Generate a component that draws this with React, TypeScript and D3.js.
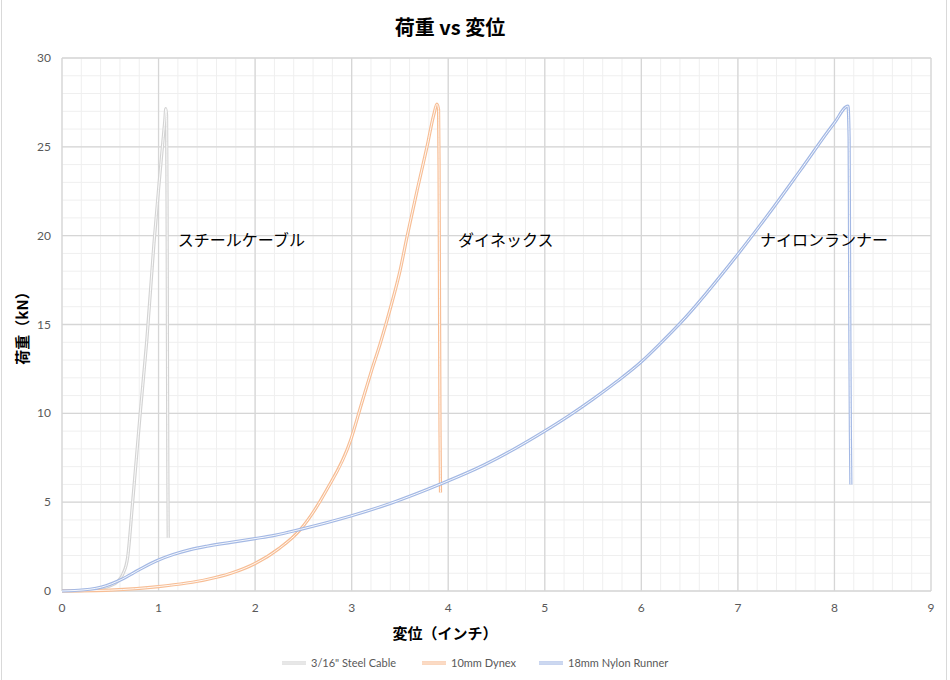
import React from "react";
import * as d3 from "d3";

const W = 950;
const H = 680;
const M = { left: 62, right: 19, top: 58, bottom: 89 };

const xTicks = [0, 1, 2, 3, 4, 5, 6, 7, 8, 9];
const yTicks = [0, 5, 10, 15, 20, 25, 30];

const steelX = [0, 0.2, 0.4, 0.5, 0.58, 0.63, 0.68, 0.73, 0.81, 0.878, 0.953, 1.0, 1.043, 1.065, 1.075, 1.083, 1.088, 1.092, 1.096, 1.1];
const steelY = [0, 0.02, 0.15, 0.3, 0.55, 0.95, 1.9, 4.9, 10, 14.1, 19.6, 22.6, 25.2, 26.5, 27.15, 26.8, 22, 14, 7, 3.0];

const dynexX = [0, 0.5, 1.0, 1.5, 1.75, 2.0, 2.25, 2.47, 2.74, 2.99, 3.1, 3.2, 3.3, 3.4, 3.5, 3.572, 3.68, 3.78, 3.85, 3.883, 3.9, 3.905, 3.91, 3.915, 3.92];
const dynexY = [0, 0.05, 0.25, 0.65, 1.0, 1.55, 2.4, 3.47, 5.68, 8.5, 10.5, 12.3, 14.0, 15.9, 18.0, 19.9, 22.6, 25.0, 26.8, 27.4, 27.1, 24, 16, 9, 5.55];

const nylonX = [0, 0.29, 0.41, 0.62, 0.8, 0.98, 1.15, 1.33, 1.5, 1.75, 2.0, 2.2, 2.47, 2.99, 3.4, 3.92, 4.37, 4.99, 5.26, 5.5, 5.75, 6.0, 6.2, 6.4, 7.0, 7.37, 7.65, 8.0, 8.14, 8.152, 8.156, 8.16, 8.165, 8.17];
const nylonY = [0, 0.1, 0.22, 0.66, 1.2, 1.7, 2.05, 2.33, 2.52, 2.74, 2.95, 3.13, 3.47, 4.22, 4.93, 6.02, 7.09, 8.97, 9.9, 10.8, 11.8, 12.9, 13.95, 15.06, 18.96, 21.6, 23.7, 26.35, 27.29, 25.5, 20, 14, 9, 6.0];

const seriesNames = ['3/16" Steel Cable', "10mm Dynex", "18mm Nylon Runner"];
const seriesColors = ["#d3d3d3", "#f7bd94", "#a3b8e4"];
const labels = ["スチールケーブル", "ダイネックス", "ナイロンランナー"];
const labelX = [1.2, 4.1, 7.23];
const labelY = 19.4;

const jp = '"Noto Sans CJK JP", "Noto Sans", sans-serif';
const num = 'Lato, "Open Sans", sans-serif';

export default function App() {
  const x = d3.scaleLinear().domain([0, 9]).range([M.left, W - M.right]);
  const y = d3.scaleLinear().domain([0, 30]).range([H - M.bottom, M.top]);

  const minorX = d3.range(0, 9.0001, 0.2);
  const minorY = d3.range(0, 30.0001, 1);

  const data = [
    steelX.map((v, i) => [v, steelY[i]] as [number, number]),
    dynexX.map((v, i) => [v, dynexY[i]] as [number, number]),
    nylonX.map((v, i) => [v, nylonY[i]] as [number, number]),
  ];
  const line = d3
    .line<[number, number]>()
    .x((d) => x(d[0]))
    .y((d) => y(d[1]))
    .curve(d3.curveMonotoneX);

  const legendX = [282, 422, 539];

  return (
    <svg width={W} height={H} style={{ position: "absolute", left: 0, top: 0, background: "#fff" }}>
      <rect x={0} y={0} width={W} height={H} fill="#fff" />
      <line x1={1.5} x2={1.5} y1={0} y2={H} stroke="#d9d9d9" />
      <line x1={946.5} x2={946.5} y1={0} y2={H} stroke="#d9d9d9" />

      <g>
        {minorX.map((v, i) => (
          <line key={"mx" + i} x1={x(v)} x2={x(v)} y1={y(0)} y2={y(30)} stroke="#efefef" strokeWidth={1} />
        ))}
        {minorY.map((v, i) => (
          <line key={"my" + i} x1={x(0)} x2={x(9)} y1={y(v)} y2={y(v)} stroke="#efefef" strokeWidth={1} />
        ))}
        {xTicks.map((v) => (
          <line key={"Mx" + v} x1={x(v)} x2={x(v)} y1={y(0)} y2={y(30)} stroke="#d6d6d6" strokeWidth={1.3} />
        ))}
        {yTicks.map((v) => (
          <line key={"My" + v} x1={x(0)} x2={x(9)} y1={y(v)} y2={y(v)} stroke="#d6d6d6" strokeWidth={1.3} />
        ))}
      </g>

      {xTicks.map((v) => (
        <text key={"tx" + v} x={x(v)} y={y(0) + 21} textAnchor="middle" fontFamily={num} fontSize={12} fill="#595959">
          {v}
        </text>
      ))}
      {yTicks.map((v) => (
        <text key={"ty" + v} x={x(0) - 11} y={y(v) + 4} textAnchor="end" fontFamily={num} fontSize={12} fill="#595959">
          {v}
        </text>
      ))}

      {data.map((d, i) => (
        <g key={"s" + i}>
          <path d={line(d) || ""} fill="none" stroke={seriesColors[i]} strokeWidth={3.2} strokeLinejoin="round" />
          <path d={line(d) || ""} fill="none" stroke="#fff" strokeWidth={0.9} strokeLinejoin="round" />
        </g>
      ))}

      {labels.map((t, i) => (
        <text key={"l" + i} x={x(labelX[i])} y={y(labelY)} fontFamily={jp} fontSize={16} fill="#000">
          {t}
        </text>
      ))}

      <text x={450} y={35} textAnchor="middle" fontFamily={jp} fontSize={20} fontWeight="bold" fill="#000">
        荷重 vs 変位
      </text>
      <text x={445} y={639} textAnchor="middle" fontFamily={jp} fontSize={15} fontWeight="bold" fill="#000">
        変位（インチ）
      </text>
      <text
        transform={`translate(28, ${(y(0) + y(30)) / 2}) rotate(-90)`}
        textAnchor="middle"
        fontFamily={jp}
        fontSize={15}
        fontWeight="bold"
        fill="#000"
      >
        荷重（kN）
      </text>

      {seriesNames.map((n, i) => (
        <g key={"lg" + i}>
          <line x1={legendX[i]} x2={legendX[i] + 24} y1={663} y2={663} stroke={seriesColors[i]} strokeWidth={3.2} />
          <line x1={legendX[i]} x2={legendX[i] + 24} y1={663} y2={663} stroke="#fff" strokeWidth={0.9} />
          <text x={legendX[i] + 29} y={667} fontFamily={num} fontSize={11} fill="#595959">
            {n}
          </text>
        </g>
      ))}
    </svg>
  );
}
